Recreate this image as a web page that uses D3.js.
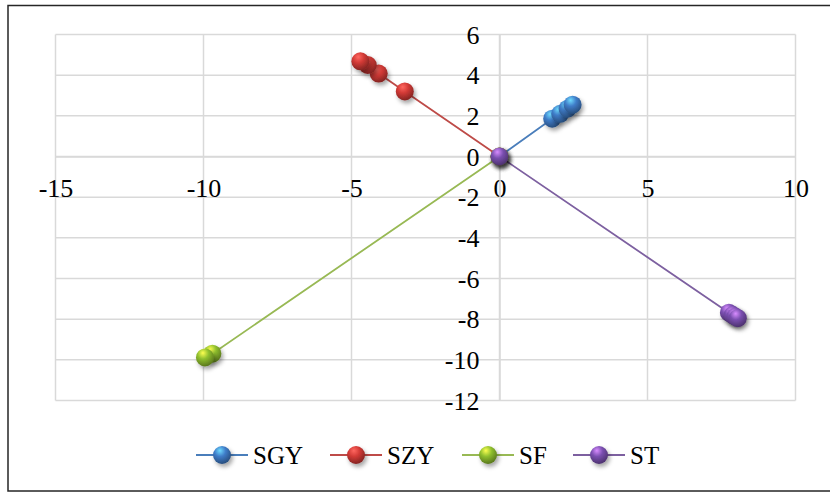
<!DOCTYPE html>
<html><head><meta charset="utf-8">
<script src="https://cdn.jsdelivr.net/npm/d3@7"></script>
<style>body{margin:0;background:#fff;} svg{display:block;}</style>
</head><body>
<svg id="c" width="830" height="493"></svg>
<script>
const seriesNames = ["SGY", "SZY", "SF", "ST"];
const seriesColors = ["#4a7ebb", "#be4b48", "#98b954", "#7d60a0"];
const baseColors = ["#3f7cc8", "#d23a36", "#8fbf2e", "#7a4fb0"];
const SGY = [[0,0],[1.78,1.86],[2.05,2.1],[2.3,2.35],[2.47,2.55]];
const SZY = [[0,0],[-3.2,3.2],[-4.08,4.08],[-4.45,4.5],[-4.7,4.68]];
const SF  = [[0,0],[-9.7,-9.7],[-9.95,-9.88]];
const ST  = [[0,0],[7.75,-7.68],[7.88,-7.8],[7.97,-7.88],[8.05,-7.95]];
const data = [SGY, SZY, SF, ST];
const xTicks = [-15,-10,-5,0,5,10];
const yTicks = [-12,-10,-8,-6,-4,-2,0,2,4,6];

const FONT = "'Liberation Serif','Times New Roman',serif";
const svg = d3.select("#c");
const x = d3.scaleLinear().domain([-15,10]).range([55.5,795.5]);
const y = d3.scaleLinear().domain([-12,6]).range([400.5,34.5]);

// frame
svg.append("rect").attr("x",8).attr("y",5.5).attr("width",840).attr("height",485.5)
  .attr("fill","#fff").attr("stroke","#262626").attr("stroke-width",1.5);

const defs = svg.append("defs");
baseColors.forEach((c,i)=>{
  const g = defs.append("radialGradient").attr("id","g"+i)
    .attr("cx","40%").attr("cy","30%").attr("r","70%").attr("fx","38%").attr("fy","25%");
  g.append("stop").attr("offset","0%").attr("stop-color",d3.color(c).brighter(1.6));
  g.append("stop").attr("offset","45%").attr("stop-color",c);
  g.append("stop").attr("offset","100%").attr("stop-color",d3.color(c).darker(1.3));
});
const f = defs.append("filter").attr("id","sh").attr("x","-50%").attr("y","-50%").attr("width","200%").attr("height","200%");
f.append("feDropShadow").attr("dx",2).attr("dy",3).attr("stdDeviation",2).attr("flood-color","#000").attr("flood-opacity",0.35);

// grid
const grid = svg.append("g").attr("stroke","#d9d9d9").attr("stroke-width",1.5);
xTicks.forEach(t=>grid.append("line").attr("x1",x(t)).attr("x2",x(t)).attr("y1",y(6)).attr("y2",y(-12)));
yTicks.forEach(t=>grid.append("line").attr("x1",x(-15)).attr("x2",x(10)).attr("y1",y(t)).attr("y2",y(t)));

// axes through zero
const xAxis = d3.axisBottom(x).tickValues(xTicks).tickSize(0).tickPadding(0).tickFormat(d=>d<0?"-"+Math.abs(d):d);
const gx = svg.append("g").attr("transform",`translate(0,${y(0)})`).call(xAxis);
gx.select(".domain").attr("stroke","#d9d9d9").attr("stroke-width",1.5);
gx.selectAll("text").attr("font-family",FONT).attr("font-size",26).attr("fill","#000").attr("dy",null).attr("y",40);

const yAxis = d3.axisLeft(y).tickValues(yTicks).tickSize(0).tickPadding(0).tickFormat(d=>d<0?"-"+Math.abs(d):d);
const gy = svg.append("g").attr("transform",`translate(${x(0)},0)`).call(yAxis);
gy.select(".domain").attr("stroke","#d9d9d9").attr("stroke-width",1.5);
gy.selectAll("text").attr("font-family",FONT).attr("font-size",26).attr("fill","#000").attr("x",-20).attr("dy","0.33em");

// series
const line = d3.line().x(d=>x(d[0])).y(d=>y(d[1]));
data.forEach((s,i)=>{
  svg.append("path").datum(s).attr("d",line).attr("fill","none").attr("stroke",seriesColors[i]).attr("stroke-width",1.8);
});
data.forEach((s,i)=>{
  svg.append("g").selectAll("circle").data(s).join("circle")
    .attr("cx",d=>x(d[0])).attr("cy",d=>y(d[1])).attr("r",9)
    .attr("fill",`url(#g${i})`).attr("filter","url(#sh)");
});

// legend
const legX = [196, 330, 462, 573];
const lg = svg.append("g");
seriesNames.forEach((n,i)=>{
  const g = lg.append("g").attr("transform",`translate(${legX[i]},455)`);
  g.append("line").attr("x1",0).attr("x2",52).attr("stroke",seriesColors[i]).attr("stroke-width",1.8);
  g.append("circle").attr("cx",26).attr("cy",0).attr("r",9).attr("fill",`url(#g${i})`).attr("filter","url(#sh)");
  g.append("text").attr("x",57).attr("y",0).attr("dy","0.34em").text(n)
    .attr("font-family",FONT).attr("font-size",25).attr("fill","#000");
});
</script>
</body></html>
